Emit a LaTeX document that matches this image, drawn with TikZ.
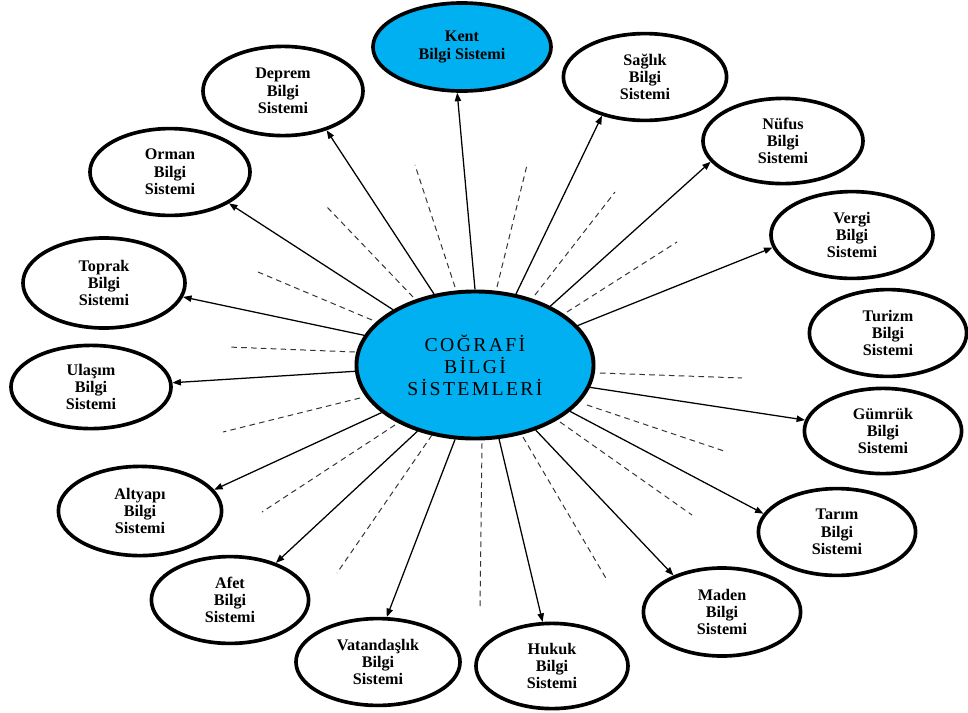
\documentclass[tikz,border=0pt]{standalone}
\usepackage{fontspec}
\setmainfont{Liberation Serif}
\usetikzlibrary{shapes.geometric,arrows.meta}
\definecolor{gisblue}{RGB}{0,176,240}
\begin{document}
\begin{tikzpicture}[x=0.025cm,y=-0.025cm,
  sys/.style={ellipse,draw,line width=2.6pt,inner sep=0pt,align=center,
    font=\bfseries\fontsize{11.5}{12.3}\selectfont,
    minimum width=4.0cm,minimum height=2.17cm},
  hub/.style={ellipse,draw,line width=2.8pt,fill=gisblue,inner sep=0pt,align=center,
    font=\fontsize{14}{15.6}\selectfont\addfontfeature{LetterSpace=12},
    minimum width=5.925cm,minimum height=3.675cm},
  conn/.style={-{Triangle[length=6pt,width=4.5pt]},line width=0.9pt},
  ray/.style={dash pattern=on 4pt off 3pt,line width=0.7pt,black!80}]
\useasboundingbox (0,0) rectangle (968,712);

% hub
\node[hub] (gis) at (475,365) {COĞRAFİ\\BİLGİ\\SİSTEMLERİ};

% surrounding systems
\node[sys,fill=gisblue,minimum width=4.45cm,minimum height=2.2cm] (kent) at (462,47) {Kent\\Bilgi Sistemi};
\node[sys,minimum height=2.23cm] (deprem) at (283,91) {Deprem\\Bilgi\\Sistemi};
\node[sys,minimum width=4.08cm] (saglik) at (645,77) {Sağlık\\Bilgi\\Sistemi};
\node[sys,minimum height=2.13cm] (nufus) at (783,141) {Nüfus\\Bilgi\\Sistemi};
\node[sys] (orman) at (170,172) {Orman\\Bilgi\\Sistemi};
\node[sys,minimum width=4.05cm] (vergi) at (852,235) {Vergi\\Bilgi\\Sistemi};
\node[sys,minimum width=4.05cm,minimum height=2.25cm] (toprak) at (104,283) {Toprak\\Bilgi\\Sistemi};
\node[sys,minimum width=3.93cm] (turizm) at (888,333) {Turizm\\Bilgi\\Sistemi};
\node[sys,minimum height=2.08cm] (ulasim) at (91,387) {Ulaşım\\Bilgi\\Sistemi};
\node[sys,minimum width=3.93cm,minimum height=2.13cm] (gumruk) at (883,431) {Gümrük\\Bilgi\\Sistemi};
\node[sys,minimum width=4.08cm,minimum height=2.23cm] (altyapi) at (140,511) {Altyapı\\Bilgi\\Sistemi};
\node[sys,minimum width=3.93cm] (tarim) at (837,532) {Tarım\\Bilgi\\Sistemi};
\node[sys,minimum width=3.93cm] (afet) at (230,600) {Afet\\Bilgi\\Sistemi};
\node[sys,minimum width=3.93cm,minimum height=2.2cm] (maden) at (722,612) {Maden\\Bilgi\\Sistemi};
\node[sys,minimum width=4.1cm] (vatandas) at (378,662) {Vatandaşlık\\Bilgi\\Sistemi};
\node[sys,minimum width=3.8cm,minimum height=2.13cm] (hukuk) at (552,666) {Hukuk\\Bilgi\\Sistemi};

% links from the hub
\draw[conn] (gis.90)    -- (kent.264);
\draw[conn] (gis.120)   -- (deprem.318);
\draw[conn] (gis.146)   -- (orman.332);
\draw[conn] (gis.165)   -- (toprak.350);
\draw[conn] (gis.183)   -- (ulasim.3);
\draw[conn] (gis.207)   -- (altyapi.16);
\draw[conn] (gis.229)   -- (afet.39);
\draw[conn] (gis.255)   -- (vatandas.79);
\draw[conn] (gis.288)   -- (hukuk.102);
\draw[conn] (gis.313)   -- (maden.143);
\draw[conn] (gis.334)   -- (tarim.166);
\draw[conn] (gis.349)   -- (gumruk.172);
\draw[conn] (gis.21)    -- (vergi.189);
\draw[conn] (gis.38.5)  -- (nufus.196);
\draw[conn] (gis.60)    -- (saglik.222);

% dashed rays between the links
\foreach \ax/\ay/\bx/\by in {413/297/327/207, 455/287/415/165, 497/287/527/165,
    535/295/615/192, 567/312/677/242, 600/373/742/378, 587/405/727/452,
    560/422/692/515, 523/437/607/580, 482/443/480/610, 432/435/337/573,
    395/425/262/512, 360/398/223/432, 355/352/228/347, 372/320/258/272}
  \draw[ray] (\ax,\ay) -- (\bx,\by);
\end{tikzpicture}
\end{document}
